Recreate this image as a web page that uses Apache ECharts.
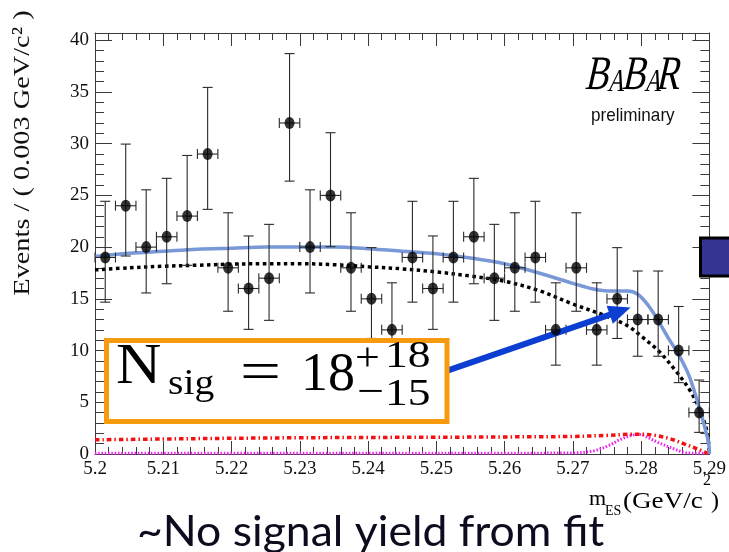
<!DOCTYPE html>
<html>
<head>
<meta charset="utf-8">
<script src="https://cdn.jsdelivr.net/npm/echarts@6/dist/echarts.min.js"></script>
<style>
  html, body { margin: 0; padding: 0; background: #fff; }
  #chart { width: 729px; height: 552px; }
</style>
</head>
<body>
<div id="chart"></div>
<script>
// m_ES bin centres (GeV/c^2), bins of 0.003 GeV/c^2
const binCenters = [5.2015, 5.2045, 5.2075, 5.2105, 5.2135, 5.2165, 5.2195, 5.2225, 5.2255, 5.2285,
                    5.2315, 5.2345, 5.2375, 5.2405, 5.2435, 5.2465, 5.2495, 5.2525, 5.2555, 5.2585,
                    5.2615, 5.2645, 5.2675, 5.2705, 5.2735, 5.2765, 5.2795, 5.2825, 5.2855, 5.2885];
const halfBin = 0.0015;
// events per bin
const counts = [19, 24, 20, 21, 23, 29, 18, 16, 17, 32,
                20, 25, 18, 15, 12, 19, 16, 19, 21, 17,
                18, 19, 12, 18, 12, 15, 13, 13, 10, 4];
// asymmetric Poisson errors (down / up)
const errDown = [4.32, 4.86, 4.43, 4.54, 4.76, 5.35, 4.20, 3.95, 4.08, 5.62,
                 4.43, 4.96, 4.20, 3.83, 3.41, 4.32, 3.95, 4.32, 4.54, 4.08,
                 4.20, 4.32, 3.41, 4.20, 3.41, 3.83, 3.55, 3.55, 3.10, 1.91];
const errUp   = [5.43, 5.96, 5.54, 5.65, 5.86, 6.44, 5.32, 5.08, 5.20, 6.71,
                 5.54, 6.06, 5.32, 4.95, 4.55, 5.43, 5.08, 5.43, 5.65, 5.20,
                 5.32, 5.43, 4.55, 5.32, 4.55, 4.95, 4.69, 4.69, 4.26, 3.15];

// total fit projection
const totalX = [5.200, 5.205, 5.210, 5.215, 5.220, 5.225, 5.230, 5.235, 5.240, 5.245, 5.250, 5.255, 5.260,
                5.265, 5.270, 5.273, 5.2755, 5.278, 5.2795, 5.281, 5.2825, 5.284, 5.2855, 5.287, 5.2882,
                5.2892, 5.2899, 5.290];
const totalY = [19.1, 19.4, 19.6, 19.8, 19.9, 20.0, 20.0, 20.0, 19.85, 19.6, 19.35, 18.95, 18.4,
                17.5, 16.5, 15.95, 15.75, 15.75, 15.45, 14.4, 12.9, 11.2, 9.6, 7.6, 5.2,
                2.9, 1.0, 0];
// combinatorial background
const bkgX = [5.200, 5.205, 5.210, 5.215, 5.220, 5.225, 5.230, 5.235, 5.240, 5.245, 5.250, 5.255,
              5.260, 5.265, 5.270, 5.275, 5.278, 5.280, 5.2825, 5.285, 5.2872, 5.2887, 5.2897, 5.290];
const bkgY = [17.8, 18.0, 18.15, 18.25, 18.35, 18.4, 18.4, 18.3, 18.1, 17.9, 17.6, 17.2,
              16.7, 15.8, 14.5, 13.3, 12.4, 11.4, 10.0, 8.1, 6.1, 4.1, 2.0, 0];
// B-background component
const bbX = [5.200, 5.210, 5.220, 5.230, 5.240, 5.250, 5.260, 5.270, 5.275, 5.278, 5.280, 5.282,
             5.2843, 5.2863, 5.2882, 5.290];
const bbY = [1.37, 1.45, 1.52, 1.57, 1.60, 1.62, 1.65, 1.70, 1.80, 1.90, 1.92, 1.80,
             1.47, 0.98, 0.50, 0];
// peaking component
const peakX = [5.200, 5.220, 5.240, 5.260, 5.270, 5.273, 5.2752, 5.2771, 5.279, 5.2798, 5.2808, 5.2824,
               5.2848, 5.2865, 5.288, 5.290];
const peakY = [0.08, 0.08, 0.08, 0.08, 0.10, 0.30, 0.80, 1.45, 1.85, 1.88, 1.65, 1.14,
               0.50, 0.12, 0.08, 0.08];

// arrow from the yield box to the signal region (data coordinates)
const arrowFrom = [5.2512, 7.96];
const arrowTo = [5.27693, 13.81];

const pairs = (xs, ys) => xs.map((x, i) => [x, ys[i]]);
const frameColor = '#3a3a3a';
const serif = 'Liberation Serif';

function renderErrorBar(params, api) {
  const x = api.value(0), n = api.value(1), dn = api.value(2), up = api.value(3);
  const c = api.coord([x, n]);
  const t = api.coord([x, n + up]);
  const b = api.coord([x, n - dn]);
  const l = api.coord([x - halfBin, n]);
  const r = api.coord([x + halfBin, n]);
  const cap = 5;
  const style = { stroke: '#2a2a2a', lineWidth: 1.1 };
  return {
    type: 'group',
    children: [
      { type: 'line', shape: { x1: c[0], y1: t[1], x2: c[0], y2: b[1] }, style },
      { type: 'line', shape: { x1: c[0] - cap, y1: t[1], x2: c[0] + cap, y2: t[1] }, style },
      { type: 'line', shape: { x1: c[0] - cap, y1: b[1], x2: c[0] + cap, y2: b[1] }, style },
      { type: 'line', shape: { x1: l[0], y1: c[1], x2: r[0], y2: c[1] }, style },
      { type: 'line', shape: { x1: l[0], y1: c[1] - cap, x2: l[0], y2: c[1] + cap }, style },
      { type: 'line', shape: { x1: r[0], y1: c[1] - cap, x2: r[0], y2: c[1] + cap }, style }
    ]
  };
}

// text placed by its baseline
function textAt(text, x, baseline, size, extra) {
  extra = extra || {};
  const family = extra.family || serif;
  const el = {
    type: 'text',
    x: x,
    y: baseline - 0.34 * size,
    z: 60,
    style: {
      text: text,
      fontFamily: family,
      fontSize: size,
      fontStyle: extra.style || 'normal',
      fontWeight: extra.weight || 'normal',
      fill: extra.fill || '#000',
      align: extra.align || 'left',
      textAlign: extra.align || 'left',
      verticalAlign: 'middle',
      textVerticalAlign: 'middle'
    }
  };
  if (extra.scaleX) el.scaleX = extra.scaleX;
  if (extra.skewX) el.skewX = extra.skewX;
  return el;
}

const axisLabelStyle = { fontFamily: serif, fontSize: 19, color: '#111' };

const xBase = {
  type: 'value', min: 5.2, max: 5.29, interval: 0.01,
  axisLine: { show: true, onZero: false, lineStyle: { color: frameColor, width: 1 } },
  axisTick: { show: true, inside: true, length: 13, lineStyle: { color: frameColor } },
  minorTick: { show: true, splitNumber: 5, length: 7, lineStyle: { color: frameColor } },
  splitLine: { show: false }, minorSplitLine: { show: false }
};
const yMajor = {
  type: 'value', min: 0, max: 40.7, interval: 5,
  axisLine: { show: true, onZero: false, lineStyle: { color: frameColor, width: 1 } },
  axisTick: { show: true, inside: true, length: 17, lineStyle: { color: frameColor } },
  splitLine: { show: false }
};
const yMinor = {
  type: 'value', min: 0, max: 40.7, interval: 1,
  axisLine: { show: false },
  axisTick: { show: true, inside: true, length: 9, lineStyle: { color: frameColor } },
  axisLabel: { show: false },
  splitLine: { show: false }
};

const logo = { scaleX: 0.74, skewX: -0.22 };

const option = {
  animation: false,
  backgroundColor: '#fff',
  grid: { left: 95, right: 13, top: 33, bottom: 98, containLabel: false },
  xAxis: [
    Object.assign({}, xBase, {
      position: 'bottom',
      axisLabel: Object.assign({ margin: 6, formatter: v => String(Math.round(v * 100) / 100) }, axisLabelStyle)
    }),
    Object.assign({}, xBase, { position: 'top', axisLabel: { show: false } })
  ],
  yAxis: [
    Object.assign({}, yMajor, {
      position: 'left',
      axisLabel: Object.assign({ margin: 6, formatter: v => (Math.abs(v % 5) < 1e-6 ? String(v) : '') }, axisLabelStyle)
    }),
    Object.assign({}, yMinor, { position: 'left' }),
    Object.assign({}, yMajor, { position: 'right', axisLabel: { show: false } }),
    Object.assign({}, yMinor, { position: 'right' })
  ],
  series: [
    {
      name: 'peaking', type: 'line', data: pairs(peakX, peakY), smooth: 0.35,
      showSymbol: false, z: 2,
      lineStyle: { color: '#f21ef0', width: 3, type: [1.5, 1.8] }
    },
    {
      name: 'BB background', type: 'line', data: pairs(bbX, bbY), smooth: 0.35,
      showSymbol: false, z: 2,
      lineStyle: { color: '#f21010', width: 3.5, type: [4.5, 3, 1.5, 3] }
    },
    {
      name: 'background', type: 'line', data: pairs(bkgX, bkgY), smooth: 0.35,
      showSymbol: false, z: 3,
      lineStyle: { color: '#000', width: 3.5, type: [3.5, 3.5] }
    },
    {
      name: 'total', type: 'line', data: pairs(totalX, totalY), smooth: 0.35,
      showSymbol: false, z: 3,
      lineStyle: { color: '#7898d8', width: 3.5 }
    },
    {
      name: 'errors', type: 'custom', renderItem: renderErrorBar, z: 4,
      data: binCenters.map((x, i) => [x, counts[i], errDown[i], errUp[i]]),
      encode: { x: 0, y: 1 }
    },
    {
      name: 'data', type: 'scatter', data: pairs(binCenters, counts), z: 5,
      symbol: 'circle', symbolSize: [10, 12], itemStyle: { color: '#000' },
      markLine: {
        silent: true, symbol: ['none', 'triangle'], symbolSize: [19, 22],
        lineStyle: { color: '#0c3fd1', width: 6, type: 'solid' },
        label: { show: false },
        emphasis: { disabled: true },
        data: [[{ coord: arrowFrom }, { coord: arrowTo }]]
      }
    }
  ],
  graphic: [
    // y-axis title
    {
      type: 'text', x: 23, y: 153, rotation: Math.PI / 2, scaleX: 1.18, z: 60,
      style: {
        text: 'Events / ( 0.003 GeV/c² )', fontFamily: serif, fontSize: 24, fill: '#111',
        align: 'center', textAlign: 'center', verticalAlign: 'middle', textVerticalAlign: 'middle'
      }
    },
    // x-axis title
    textAt('m', 589, 507, 22),
    textAt('ES', 605, 516, 14),
    textAt('(GeV/c', 623, 510, 24, { scaleX: 1.13 }),
    textAt('2', 703, 486, 16),
    textAt(')', 711, 510, 24),
    // experiment label
    textAt('B', 587, 93, 48, logo),
    textAt('A', 609, 93, 32, logo),
    textAt('B', 624, 93, 48, logo),
    textAt('A', 646, 93, 32, logo),
    textAt('R', 658, 93, 48, logo),
    textAt('preliminary', 591, 122, 19, { family: 'Liberation Sans', scaleX: 0.9, fill: '#111' }),
    // signal-yield box
    {
      type: 'rect', z: 50,
      shape: { x: 106.5, y: 340.5, width: 340.5, height: 81 },
      style: { fill: '#fff', stroke: '#f79a0e', lineWidth: 5 }
    },
    textAt('N', 116, 387, 56, { scaleX: 1.12 }),
    textAt('sig', 168, 397, 36, { scaleX: 1.1 }),
    textAt('=', 240, 394, 56, { scaleX: 1.3 }),
    textAt('18', 301, 394, 54),
    textAt('+', 355, 373, 40, { scaleX: 1.1 }),
    textAt('18', 385, 370, 38, { scaleX: 1.2 }),
    textAt('\u2212', 357, 407, 40, { scaleX: 1.2 }),
    textAt('15', 385, 408, 38, { scaleX: 1.2 }),
    // legend swatch at the right edge
    {
      type: 'rect', z: 55,
      shape: { x: 700.5, y: 238, width: 40, height: 38 },
      style: { fill: '#363594', stroke: '#000', lineWidth: 3 }
    },
    // caption
    textAt('~No signal yield from fit', 137, 547, 42, { family: 'Lato', fill: '#0c0c1e', scaleX: 1.06 })
  ]
};

const chart = echarts.init(document.getElementById('chart'));
chart.setOption(option);
</script>
</body>
</html>
